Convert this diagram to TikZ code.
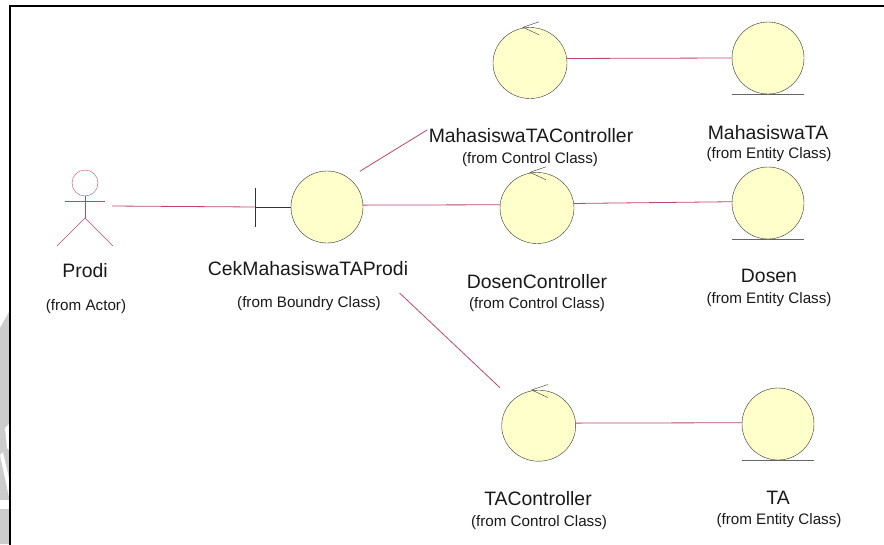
\documentclass[tikz,border=0pt]{standalone}
\usepackage{fontspec}
\setmainfont{Liberation Sans}
\usetikzlibrary{shapes.geometric}
\definecolor{assoccol}{RGB}{190,70,110}
\definecolor{bubblecol}{RGB}{255,255,204}
\tikzset{
  bubble/.style={draw=black!80, fill=bubblecol, circle, minimum size=72pt, inner sep=0pt},
  ctlbubble/.style={draw=black!80, fill=bubblecol, ellipse, minimum width=74pt, minimum height=71pt, inner sep=0pt},
  assoc/.style={draw=assoccol, line width=0.8pt},
  actorline/.style={draw=assoccol, line width=0.6pt},
  title/.style={font=\fontsize{19.4}{21}\selectfont, inner sep=0pt, text=black!90},
  origin/.style={font=\fontsize{15.2}{16}\selectfont, inner sep=0pt, text=black!90},
}
\begin{document}
\begin{tikzpicture}[x=1pt, y=-1pt]
  \useasboundingbox (0,0) rectangle (884,544);
  % watermark
  \fill[black!20] (0,328) -- (9,312) -- (9,544) -- (0,544) -- cycle;
  \fill[white] (0,455) -- (3,452) -- (9,478) -- (9,497) -- cycle;
  \fill[white] (0,500) -- (9,500) -- (9,509) -- (0,509) -- cycle;
  \fill[white] (5,428) -- (9,424) -- (9,450) -- (7,448) -- cycle;
  \draw[line width=1.6pt] (10,546) -- (10,6) -- (886,6);
  % actor
  \node (head) [circle, draw=assoccol, minimum size=26pt, inner sep=0pt] at (85,183) {};
  \coordinate (hip) at (85,218);
  \coordinate (armL) at (65,201.5);
  \coordinate (armR) at (105,201.5);
  \coordinate (footL) at (57,246);
  \coordinate (footR) at (113,246);
  \draw[actorline] (head) -- (hip);
  \draw[actorline] (armL) -- (armR);
  \draw[actorline] (footL) -- (hip) -- (footR);
  \node (prodi) [title] at (85,271) {Prodi};
  \node (prodifrom) [origin] at (86,307) {(from Actor)};
  % boundary
  \node (bnd) [bubble] at (327,207) {};
  \coordinate (barT) at (255,188);
  \coordinate (barB) at (255,227);
  \coordinate (barM) at (255,207);
  \coordinate (actorend) at (112,206);
  \draw[black!80] (barT) -- (barB);
  \draw[black!80] (barM) -- (bnd);
  \node (bndname) [title] at (308,269) {CekMahasiswaTAProdi};
  \node (bndfrom) [origin] at (309,304) {(from Boundry Class)};
  % control
  \node (mtc) [ctlbubble] at (530,63) {};
  \node (dsc) [ctlbubble] at (537,208) {};
  \node (tac) [ctlbubble] at (538.7,425.7) {};
  \foreach \c in {mtc,dsc,tac}
    \draw[black!80] ([shift={(9,-5.5)}]\c.north) -- ([shift={(-7,0)}]\c.north) -- ([shift={(9,7.5)}]\c.north);
  \node (mtcname) [title] at (531,136) {MahasiswaTAController};
  \node (mtcfrom) [origin] at (530,160) {(from Control Class)};
  \node (dscname) [title] at (537,282) {DosenController};
  \node (dscfrom) [origin] at (537,305) {(from Control Class)};
  \node (tacname) [title] at (538,499) {TAController};
  \node (tacfrom) [origin] at (539,523) {(from Control Class)};
  % entity
  \node (mta) [bubble] at (768,58) {};
  \node (dsn) [bubble] at (768,203) {};
  \node (ta) [bubble] at (778,424) {};
  \foreach \e in {mta,dsn,ta}
    \draw[black!60, line width=0.9pt] ([xshift=-36pt]\e.south) -- ([xshift=36pt]\e.south);
  \node (mtaname) [title] at (768,133) {MahasiswaTA};
  \node (mtafrom) [origin] at (769,155) {(from Entity Class)};
  \node (dsnname) [title] at (769,276) {Dosen};
  \node (dsnfrom) [origin] at (769,300) {(from Entity Class)};
  \node (taname) [title] at (778,498) {TA};
  \node (tafrom) [origin] at (779,521) {(from Entity Class)};
  % associations
  \coordinate (mtcend) at (427,130);
  \draw[assoc] (actorend) -- (barM);
  \draw[assoc] (bnd.3) -- (dsc.175);
  \draw[assoc, shorten <=13pt] (bnd.53) -- (mtcend);
  \draw[assoc, shorten <=78pt, shorten >=18pt] (bnd.-64) -- (tac.135);
  \draw[assoc] (mtc.7) -- (mta.west);
  \draw[assoc] (dsc.7) -- (dsn.178);
  \draw[assoc] (tac.4) -- (ta.178);
\end{tikzpicture}
\end{document}
